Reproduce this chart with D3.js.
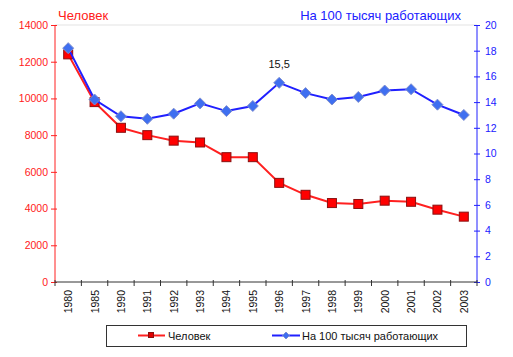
<!DOCTYPE html>
<html><head><meta charset="utf-8">
<script src="https://cdn.jsdelivr.net/npm/d3@7"></script>
<style>body{margin:0;background:#fff}svg{display:block;font-family:"Liberation Sans",Arial,sans-serif}</style>
</head><body><svg id="c" width="513" height="357"></svg>
<script>
const years = ["1980","1985","1990","1991","1992","1993","1994","1995","1996","1997","1998","1999","2000","2001","2002","2003"];
const people = [12400,9800,8400,8000,7700,7600,6800,6800,5400,4750,4300,4250,4430,4370,3940,3560];
const per100k = [18.2,14.2,12.9,12.7,13.1,13.9,13.3,13.7,15.5,14.7,14.2,14.4,14.9,15.0,13.8,13.0];
const leftTicks = [0,2000,4000,6000,8000,10000,12000,14000];
const rightTicks = [0,2,4,6,8,10,12,14,16,18,20];
const seriesNames = ["Человек","На 100 тысяч работающих"];
const annot = {index: 8, text: "15,5"};

const svg = d3.select("#c");
const L = 55, R = 477, T = 25, B = 282;
const x = d3.scaleBand().domain(years).range([L, R]);
const yL = d3.scaleLinear().domain([0,14000]).range([B, T]);
const yR = d3.scaleLinear().domain([0,20]).range([B, T]);
const red = "#ff2020", blue = "#2020ff";

// top gridline
svg.append("line").attr("x1",L).attr("x2",R).attr("y1",yL(14000)).attr("y2",yL(14000)).attr("stroke","#e3e3e3");

// left axis
const gl = svg.append("g").attr("transform",`translate(${L},0)`)
  .call(d3.axisLeft(yL).tickValues(leftTicks).tickSize(4).tickPadding(3).tickFormat(d3.format("d")));
gl.select(".domain").attr("stroke",red).attr("d",`M0,${B}V${T}`);
gl.selectAll(".tick line").attr("stroke",red).attr("x1",2);
gl.selectAll(".tick text").attr("fill",red).style("font-size","10.5px").style("font-family","Liberation Sans, Arial");

// right axis
const gr = svg.append("g").attr("transform",`translate(${R},0)`)
  .call(d3.axisRight(yR).tickValues(rightTicks).tickSize(3).tickPadding(5));
gr.select(".domain").attr("stroke",blue).attr("d",`M0,${B}V${T}`);
gr.selectAll(".tick line").attr("stroke",blue).attr("x1",-3);
gr.selectAll(".tick text").attr("fill",blue).style("font-size","10.5px").style("font-family","Liberation Sans, Arial");

// x axis
const gx = svg.append("g").attr("transform",`translate(0,${B})`);
gx.append("line").attr("x1",L).attr("x2",R).attr("stroke","#333");
const bounds = years.map(y => x(y)).concat([R]);
gx.selectAll("line.t").data(bounds).join("line").attr("class","t")
  .attr("x1",d=>d).attr("x2",d=>d).attr("y1",-2).attr("y2",4).attr("stroke","#333");
gx.selectAll("text").data(years).join("text")
  .attr("transform",d=>`translate(${x(d)+x.bandwidth()/2+4},${8}) rotate(-90)`)
  .attr("text-anchor","end").attr("fill","#111").style("font-size","10.5px").text(d=>d);

// series
const cx = d => x(d)+x.bandwidth()/2;
const lineL = d3.line().x((d,i)=>cx(years[i])).y(d=>yL(d));
const lineR = d3.line().x((d,i)=>cx(years[i])).y(d=>yR(d));
svg.append("path").attr("d",lineL(people)).attr("fill","none").attr("stroke",red).attr("stroke-width",2);
svg.selectAll("rect.m").data(people).join("rect").attr("class","m")
  .attr("x",(d,i)=>cx(years[i])-4.5).attr("y",d=>yL(d)-4.5).attr("width",9).attr("height",9)
  .attr("fill","#f00").attr("stroke","#8a1010").attr("stroke-width",1);

svg.append("path").attr("d",lineR(per100k)).attr("fill","none").attr("stroke",blue).attr("stroke-width",2);
const diamond = s => `M0,${-s}L${s},0L0,${s}L${-s},0Z`;
svg.selectAll("path.d").data(per100k).join("path").attr("class","d")
  .attr("transform",(d,i)=>`translate(${cx(years[i])},${yR(d)})`)
  .attr("d",diamond(5.5)).attr("fill","#3f6ff0").attr("stroke","#7f8fd0").attr("stroke-width",1);

// annotation
svg.append("text").attr("x",cx(years[annot.index])).attr("y",yR(per100k[annot.index])-15)
  .attr("text-anchor","middle").attr("fill","#111").style("font-size","11px").text(annot.text);

// axis titles
svg.append("text").attr("x",58).attr("y",20).attr("fill",red).style("font-size","13px").text(seriesNames[0]);
svg.append("text").attr("x",461).attr("y",20).attr("text-anchor","end").attr("fill",blue).style("font-size","13px").text(seriesNames[1]);

// legend
const lg = svg.append("g");
lg.append("rect").attr("x",106.5).attr("y",325.5).attr("width",360).attr("height",21).attr("fill","#fff").attr("stroke","#333");
lg.append("line").attr("x1",138).attr("x2",165).attr("y1",335.5).attr("y2",335.5).attr("stroke",red).attr("stroke-width",2);
lg.append("rect").attr("x",148.5).attr("y",332.5).attr("width",5).attr("height",5).attr("fill","#e00000").attr("stroke","#8a1010");
lg.append("text").attr("x",168).attr("y",339.5).attr("fill","#111").style("font-size","11px").text(seriesNames[0]);
lg.append("line").attr("x1",272).attr("x2",300).attr("y1",335.5).attr("y2",335.5).attr("stroke",blue).attr("stroke-width",2);
lg.append("path").attr("transform","translate(286,335.5)").attr("d",diamond(3.5)).attr("fill","#3f6ff0").attr("stroke","#7f8fd0");
lg.append("text").attr("x",302).attr("y",339.5).attr("fill","#111").style("font-size","11px").text(seriesNames[1]);
</script></body></html>
